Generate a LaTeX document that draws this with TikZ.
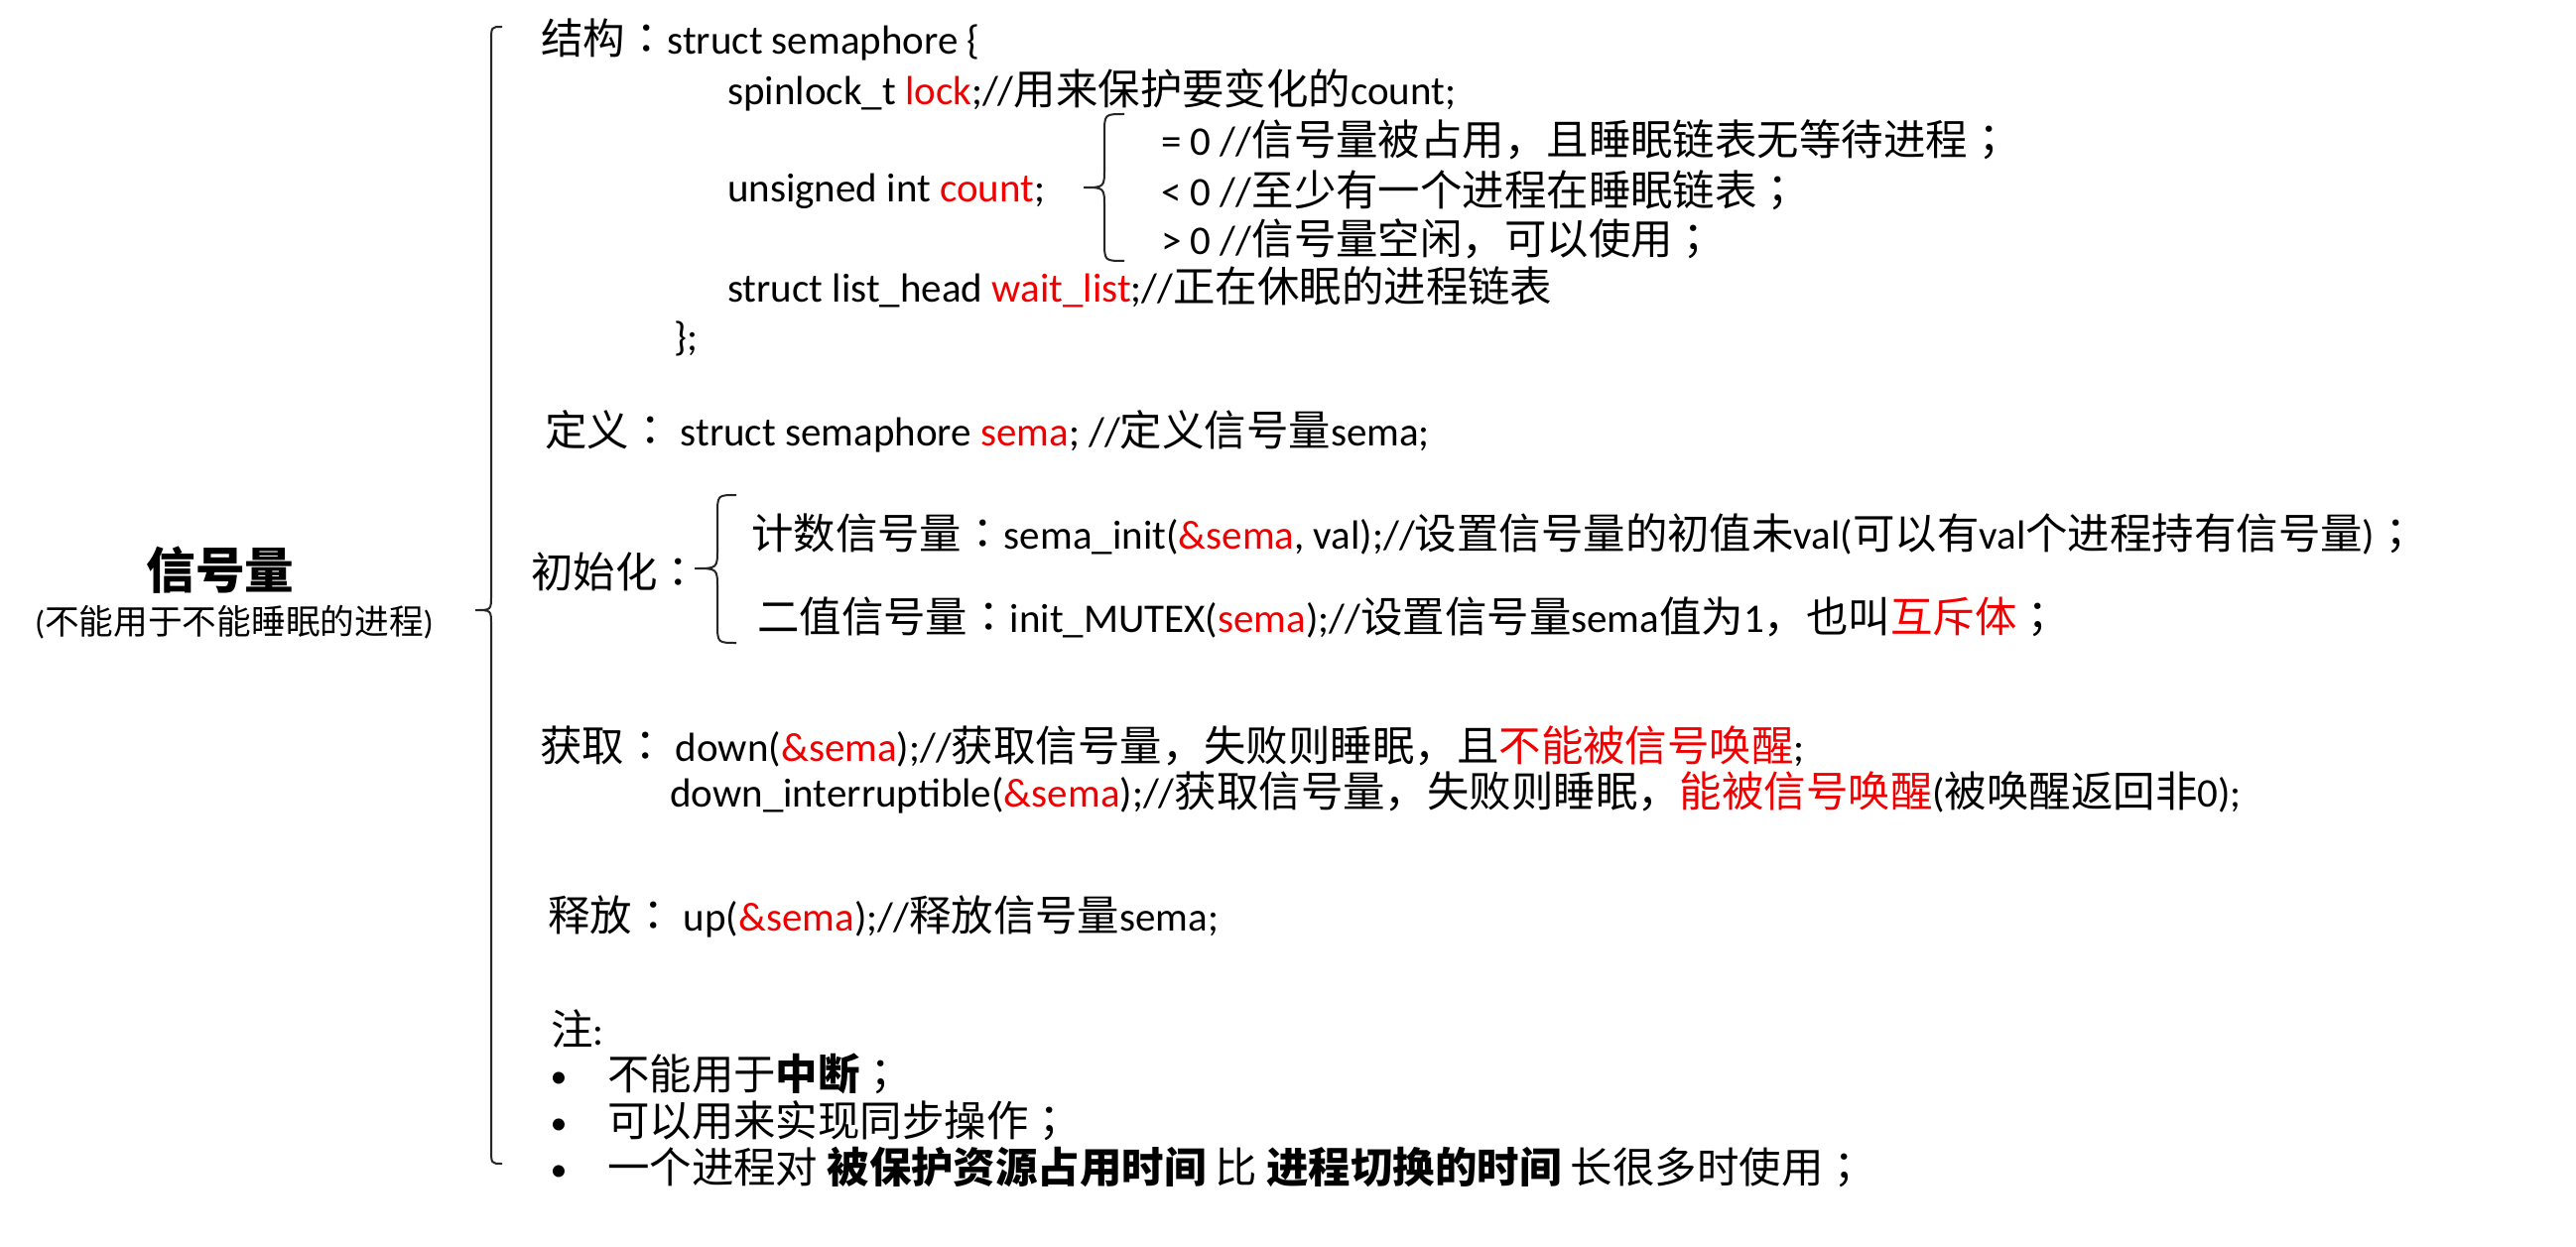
\documentclass[tikz,border=0pt]{standalone}
\usepackage{fontspec}
\setmainfont{Carlito}
\newfontfamily\cjk[Scale=1.035]{Noto Sans CJK SC}
\newfontfamily\cjktc[Scale=1.035]{Noto Sans CJK TC}
\XeTeXinterchartokenstate=1
\chardef\CJKcls=20
\chardef\PUNcls=21
\newcount\cjkc
\def\setcjkrange#1#2{\cjkc=#1\relax\loop\XeTeXcharclass\cjkc=\CJKcls\relax\ifnum\cjkc<#2\relax\advance\cjkc by 1\relax\repeat}
\setcjkrange{"3000}{"303F}
\setcjkrange{"4E00}{"9FFF}
\setcjkrange{"FF00}{"FFEF}
\XeTeXcharclass"FF1A=\PUNcls
\XeTeXcharclass"FF1B=\PUNcls
\XeTeXinterchartoks 0 \CJKcls={\begingroup\cjk}
\XeTeXinterchartoks 4095 \CJKcls={\begingroup\cjk}
\XeTeXinterchartoks \CJKcls 0={\endgroup}
\XeTeXinterchartoks \CJKcls 4095={\endgroup}
\XeTeXinterchartoks 0 \PUNcls={\begingroup\cjktc}
\XeTeXinterchartoks 4095 \PUNcls={\begingroup\cjktc}
\XeTeXinterchartoks \PUNcls 0={\endgroup}
\XeTeXinterchartoks \PUNcls 4095={\endgroup}
\XeTeXinterchartoks \CJKcls \PUNcls={\endgroup\begingroup\cjktc}
\XeTeXinterchartoks \PUNcls \CJKcls={\endgroup\begingroup\cjk}
\definecolor{hred}{RGB}{240,0,0}
\newcommand\hr[1]{\textcolor{hred}{#1}}
\newcommand\mybrace[7]{\draw[bracestyle] (#1,#4) .. controls (#2,#4) .. (#2,#4+#7) -- (#2,#5-#7) .. controls (#2,#5) .. (#3,#5) .. controls (#2,#5) .. (#2,#5+#7) -- (#2,#6-#7) .. controls (#2,#6) .. (#1,#6);}
\tikzset{
  txt/.style={anchor=base west, inner sep=0pt, font=\fontsize{41}{49}\selectfont},
  bul/.style={anchor=base, inner sep=0pt, font=\fontsize{34}{40}\selectfont},
  bracestyle/.style={draw=black!85, line width=2pt},
}
\begin{document}
\begin{tikzpicture}[x=1pt,y=-1pt]
\useasboundingbox (0,0) rectangle (2596,1257);
% title
\node[anchor=base, inner sep=0pt, font=\fontsize{48}{56}\selectfont\bfseries] (title) at (222,593) {信号量};
\node[anchor=base, inner sep=0pt, font=\fontsize{33.5}{40}\selectfont] (sub) at (236,639) {(不能用于不能睡眠的进程)};
% braces
\mybrace{506}{495}{479}{27}{615}{1173}{15}
\mybrace{1133}{1113}{1092}{115}{189}{263}{20}
\mybrace{742}{723}{700}{499}{573}{648}{20}
% structure
\node[txt] (n1) at (545,55) {结构：struct semaphore \{};
\node[txt] (n2) at (733,106) {spinlock\_t \hr{lock};//用来保护要变化的count;};
\node[txt] (n3) at (733,204) {unsigned int \hr{count};};
\node[txt] (c1) at (1170,157) {= 0 //信号量被占用，且睡眠链表无等待进程；};
\node[txt] (c2) at (1170,208) {< 0 //至少有一个进程在睡眠链表；};
\node[txt] (c3) at (1170,257) {> 0 //信号量空闲，可以使用；};
\node[txt] (n4) at (733,305) {struct list\_head \hr{wait\_list};//正在休眠的进程链表};
\node[txt] (n5) at (679,353) {\};};
% definition
\node[txt] (n6) at (549,449) {定义： struct semaphore \hr{sema}; //定义信号量sema;};
% init
\node[txt] (n7) at (535,592) {初始化：};
\node[txt] (n8) at (757,553) {计数信号量：sema\_init(\hr{\&sema}, val);//设置信号量的初值未val(可以有val个进程持有信号量)；};
\node[txt] (n9) at (763,637) {二值信号量：init\_MUTEX(\hr{sema});//设置信号量sema值为1，也叫\hr{互斥体}；};
% acquire
\node[txt] (n10) at (544,767) {获取： down(\hr{\&sema});//获取信号量，失败则睡眠，且\hr{不能被信号唤醒};};
\node[txt] (n11) at (675,813) {down\_interruptible(\hr{\&sema});//获取信号量，失败则睡眠，\hr{能被信号唤醒}(被唤醒返回非0);};
% release
\node[txt] (n12) at (552,938) {释放： up(\hr{\&sema});//释放信号量sema;};
% notes
\node[txt] (n13) at (555,1053) {注:};
\node[bul] (b1) at (563,1096) {•};
\node[bul] (b2) at (563,1143) {•};
\node[bul] (b3) at (563,1190) {•};
\node[txt] (t1) at (612,1098) {不能用于\textbf{中断}；};
\node[txt] (t2) at (612,1145) {可以用来实现同步操作；};
\node[txt] (t3) at (612,1192) {一个进程对 \textbf{被保护资源占用时间} 比 \textbf{进程切换的时间} 长很多时使用；};
\end{tikzpicture}
\end{document}
